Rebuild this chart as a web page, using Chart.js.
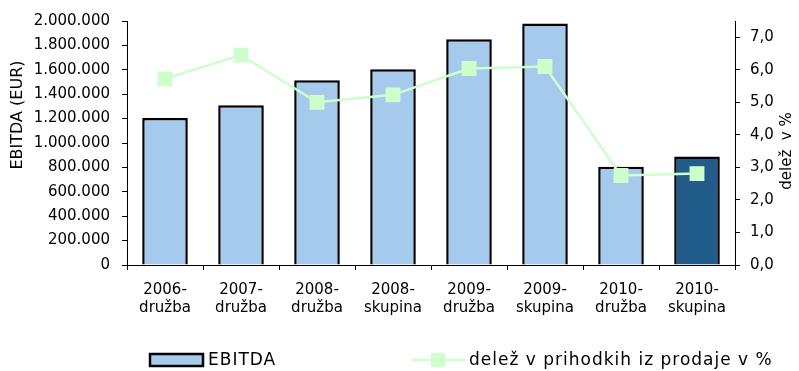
<!DOCTYPE html>
<html>
<head>
<meta charset="utf-8">
<script src="https://cdn.jsdelivr.net/npm/chart.js@4.4.1/dist/chart.umd.min.js"></script>
<style>
  html, body { margin: 0; padding: 0; background: #fff; }
  #c { display: block; }
</style>
</head>
<body>
<canvas id="c" width="799" height="371"></canvas>
<script>
// EBITDA by year and reporting scope, with its share of sales revenue
const categories = [
  ['2006-', 'družba'], ['2007-', 'družba'], ['2008-', 'družba'], ['2008-', 'skupina'],
  ['2009-', 'družba'], ['2009-', 'skupina'], ['2010-', 'družba'], ['2010-', 'skupina']
];
const ebitda = [1205000, 1310000, 1515000, 1605000, 1850000, 1980000, 805000, 890000];
const sharePct = [5.72, 6.45, 5.0, 5.23, 6.04, 6.1, 2.75, 2.81];
const barColors = ['#A6CAEC', '#A6CAEC', '#A6CAEC', '#A6CAEC', '#A6CAEC', '#A6CAEC', '#A6CAEC', '#215C8A'];
const shareTicks = [0, 1, 2, 3, 4, 5, 6, 7];

const leftTitle = 'EBITDA (EUR)';
const rightTitle = 'delež  v %';
const ebitdaLabel = 'EBITDA';
const shareLabel = 'delež v prihodkih iz prodaje v %';

const FONT = 'DejaVu Sans';
const LINE_GREEN = '#CCFFCC';
const LIGHT_BLUE = '#A6CAEC';

function thousands(v) {
  return String(Math.round(v)).replace(/\B(?=(\d{3})+(?!\d))/g, '.');
}

// axis titles (reading bottom-up on both sides) and the legend row
const decorations = {
  id: 'decorations',
  afterDraw(chart) {
    const ctx = chart.ctx;
    const area = chart.chartArea;
    ctx.save();
    ctx.fillStyle = '#000';
    ctx.textBaseline = 'middle';
    ctx.textAlign = 'center';

    ctx.font = '16px "' + FONT + '"';
    ctx.save();
    ctx.translate(18, 115);
    ctx.rotate(-Math.PI / 2);
    ctx.fillText(leftTitle, 0, 0);
    ctx.restore();

    ctx.font = '15px "' + FONT + '"';
    ctx.save();
    ctx.translate(787, (area.top + area.bottom) / 2 + 8);
    ctx.rotate(-Math.PI / 2);
    ctx.fillText(rightTitle, 0, 0);
    ctx.restore();

    // legend
    const ly = 360;
    ctx.fillStyle = LIGHT_BLUE;
    ctx.strokeStyle = '#000';
    ctx.lineWidth = 2.5;
    ctx.fillRect(150, 354, 53, 12);
    ctx.strokeRect(150, 354, 53, 12);

    ctx.strokeStyle = LINE_GREEN;
    ctx.lineWidth = 2.5;
    ctx.beginPath();
    ctx.moveTo(412, ly);
    ctx.lineTo(465, ly);
    ctx.stroke();
    ctx.fillStyle = LINE_GREEN;
    ctx.fillRect(431, ly - 7, 14, 14);

    ctx.fillStyle = '#000';
    ctx.textAlign = 'left';
    ctx.font = '17px "' + FONT + '"';
    if ('letterSpacing' in ctx) ctx.letterSpacing = '1px';
    ctx.fillText(ebitdaLabel, 208, ly + 1);
    ctx.fillText(shareLabel, 469, ly + 1);
    ctx.restore();
  }
};

new Chart(document.getElementById('c'), {
  type: 'bar',
  data: {
    labels: categories,
    datasets: [
      {
        type: 'line',
        label: shareLabel,
        data: sharePct,
        yAxisID: 'y1',
        borderColor: LINE_GREEN,
        backgroundColor: LINE_GREEN,
        borderWidth: 2.5,
        pointStyle: 'rect',
        pointRadius: 10.5,
        pointBorderWidth: 0,
        pointBackgroundColor: LINE_GREEN,
        tension: 0,
        order: 0
      },
      {
        type: 'bar',
        label: ebitdaLabel,
        data: ebitda,
        yAxisID: 'y',
        backgroundColor: barColors,
        borderColor: '#000',
        borderWidth: 2.5,
        barPercentage: 0.6,
        categoryPercentage: 1,
        order: 1
      }
    ]
  },
  options: {
    responsive: false,
    animation: false,
    devicePixelRatio: 1,
    layout: { padding: { top: 21, left: 0, right: 0, bottom: 0 } },
    plugins: {
      legend: { display: false },
      tooltip: { enabled: false }
    },
    scales: {
      x: {
        offset: true,
        grid: { display: true, drawOnChartArea: false, tickLength: 5, color: '#000', offset: true },
        border: { color: '#000', width: 1 },
        ticks: { color: '#000', font: { family: FONT, size: 15 }, padding: 11, maxRotation: 0, autoSkip: false },
        afterFit(scale) { scale.height = 106; }
      },
      y: {
        position: 'left',
        min: 0,
        max: 2000000,
        grid: { display: true, drawOnChartArea: false, tickLength: 5, color: '#000' },
        border: { color: '#000', width: 1 },
        ticks: {
          stepSize: 200000,
          color: '#000',
          font: { family: FONT, size: 15 },
          padding: 12,
          callback: (v) => thousands(v)
        },
        afterFit(scale) { scale.width = 127; }
      },
      y1: {
        position: 'right',
        min: 0,
        max: 7.5,
        grid: { display: true, drawOnChartArea: false, tickLength: 5, color: '#000' },
        border: { color: '#000', width: 1 },
        ticks: {
          color: '#000',
          font: { family: FONT, size: 15 },
          padding: 10,
          callback: (v) => v.toFixed(1).replace('.', ',')
        },
        afterBuildTicks(scale) { scale.ticks = shareTicks.map((v) => ({ value: v })); },
        afterFit(scale) { scale.width = 64; }
      }
    }
  },
  plugins: [decorations]
});
</script>
</body>
</html>
